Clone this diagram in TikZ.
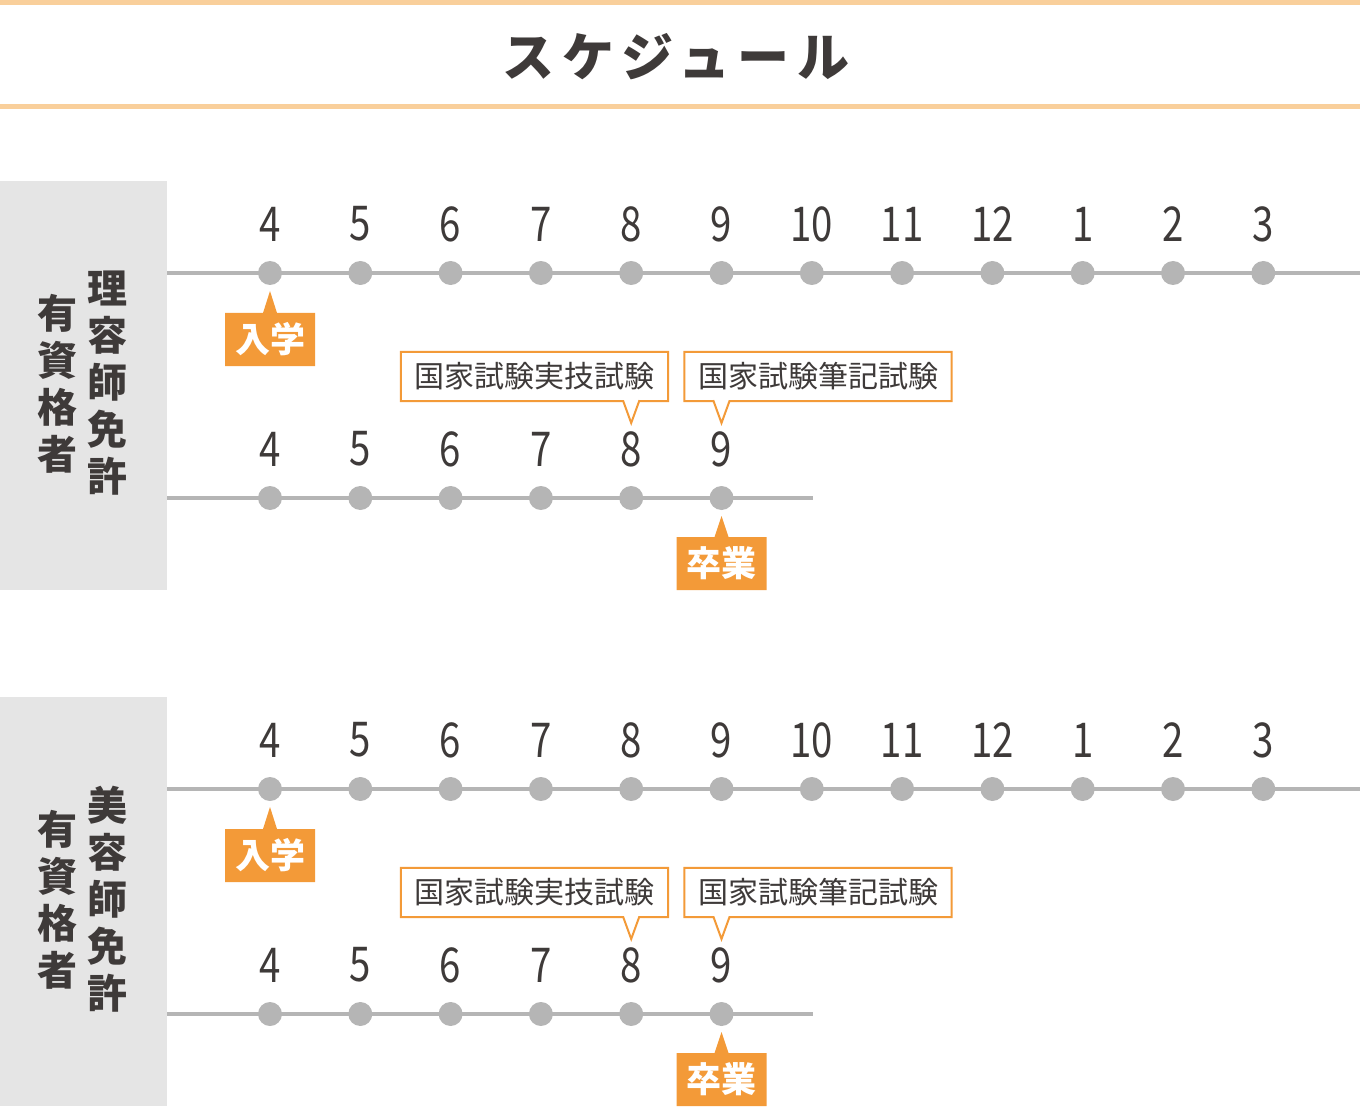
\documentclass[tikz,border=0pt]{standalone}
\usepackage{fontspec}
\setmainfont{Noto Sans CJK JP}
\newfontfamily\numfont[FakeStretch=0.8]{Noto Sans CJK JP}
\newfontfamily\titlefont[LetterSpace=15]{Noto Sans CJK JP}
\usetikzlibrary{positioning, shapes.callouts}

\definecolor{linegray}{HTML}{B5B5B5}
\definecolor{panelgray}{HTML}{E5E5E5}
\definecolor{textgray}{HTML}{3E3A39}
\definecolor{accent}{HTML}{F39A38}
\definecolor{rulepeach}{HTML}{F9CF9B}

\begin{document}
\begin{tikzpicture}[x=1pt,y=-1pt,on grid,
	rule/.style={rulepeach,line width=5pt},
	panel/.style={fill=panelgray,minimum width=167pt,minimum height=409pt,anchor=north west,inner sep=0pt},
	axis/.style={linegray,line width=4pt},
	dot/.style={circle,fill=linegray,minimum size=24pt,inner sep=0pt},
	month/.style={text=textgray,font=\numfont\fontsize{48}{48}\selectfont},
	tag/.style={rectangle callout,fill=accent,text=white,font=\bfseries\fontsize{35}{35}\selectfont,
		minimum width=90pt,minimum height=53pt,inner sep=0pt,callout pointer width=14pt},
	exam/.style={rectangle,fill=white,text=textgray,
		font=\fontsize{30}{30}\selectfont,minimum width=267pt,minimum height=49pt,inner sep=0pt},
	examline/.style={accent,line width=2pt,line join=miter},
	vlabel/.style={align=center,text=textgray,font=\bfseries\fontsize{40}{47}\selectfont}]
	\useasboundingbox (0,0) rectangle (1360,1107);
	% title
	\draw[rule] (0,3) -- (1360,3);
	\draw[rule] (0,107) -- (1360,107);
	\node[text=textgray,font=\titlefont\bfseries\fontsize{52}{52}\selectfont] (title) at (676,57) {スケジュール};
	% two timetables
	\foreach \p/\dy in {a/0,b/516}{
		\node[panel] (panel\p) at (0,181+\dy) {};
		\coordinate (top\p) at (167,273+\dy);
		\coordinate (topend\p) at (1360,273+\dy);
		\coordinate (low\p) at (167,498+\dy);
		\coordinate (lowend\p) at (813,498+\dy);
		\draw[axis] (top\p) -- (topend\p);
		\draw[axis] (low\p) -- (lowend\p);
		\foreach \m [count=\i from 0] in {4,5,6,7,8,9,10,11,12,1,2,3}{
			\node[dot] (t\p\i) at (270+90.3*\i,273+\dy) {};
			\node[month] (tm\p\i) [above=49pt of t\p\i] {\m};
		}
		\foreach \m [count=\i from 0] in {4,5,6,7,8,9}{
			\node[dot] (l\p\i) at (270+90.3*\i,498+\dy) {};
			\node[month] (lm\p\i) [above=49pt of l\p\i] {\m};
		}
		\node[tag,callout absolute pointer={(270,291+\dy)}] (enter\p) at (270,339.5+\dy) {入学};
		\node[tag,callout absolute pointer={(721.5,516+\dy)}] (grad\p) at (721.5,563.5+\dy) {卒業};
		% exam boxes with straight pointers
		\node[exam] (skill\p) at (534.5,376.5+\dy) {国家試験実技試験};
		\coordinate (skilltip\p) at (631.2,423+\dy);
		\coordinate (skillbl\p) at (623.2,401+\dy);
		\coordinate (skillbr\p) at (639.2,401+\dy);
		\draw[examline] (skill\p.south west) -- (skill\p.north west) -- (skill\p.north east)
			-- (skill\p.south east) -- (skillbr\p) -- (skilltip\p) -- (skillbl\p) -- cycle;
		\node[exam] (paper\p) at (818,376.5+\dy) {国家試験筆記試験};
		\coordinate (papertip\p) at (721.5,423+\dy);
		\coordinate (paperbl\p) at (713.5,401+\dy);
		\coordinate (paperbr\p) at (729.5,401+\dy);
		\draw[examline] (paper\p.south west) -- (paper\p.north west) -- (paper\p.north east)
			-- (paper\p.south east) -- (paperbr\p) -- (papertip\p) -- (paperbl\p) -- cycle;
	}
	\node[vlabel] (joba) at (107,383.5) {理\\容\\師\\免\\許};
	\node[vlabel] (holda) at (57,383.5) {有\\資\\格\\者};
	\node[vlabel] (jobb) at (107,899.5) {美\\容\\師\\免\\許};
	\node[vlabel] (holdb) at (57,899.5) {有\\資\\格\\者};
\end{tikzpicture}
\end{document}
